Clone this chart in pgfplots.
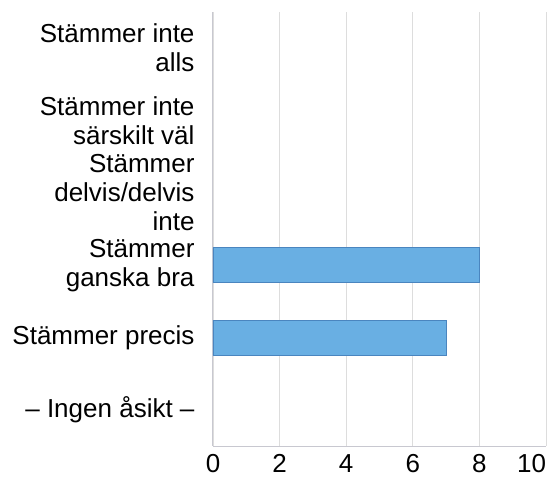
\documentclass[border=0pt]{standalone}
\usepackage{pgfplots}
\pgfplotsset{compat=1.18}
\usepackage{fontspec}
\setmainfont{Liberation Sans}
\definecolor{barfill}{HTML}{69AFE3}
\definecolor{barline}{HTML}{4A85BF}
\definecolor{gridc}{HTML}{DDDDDD}
\definecolor{axc}{HTML}{C8C8D0}
\begin{document}
\begin{tikzpicture}
\begin{axis}[
  at={(0,0)}, anchor=south west,
  scale only axis,
  width=333bp, height=434bp,
  xmin=0, xmax=10,
  ymin=-0.5, ymax=5.5,
  y dir=reverse,
  xbar,
  bar width=35bp,
  xtick={0,2,...,10},
  xticklabels={0,2,4,6,8,\makebox[0pt][r]{10}},
  ytick={0,1,2,3,4,5},
  yticklabels={{Stämmer inte\\alls},{Stämmer inte\\särskilt väl},{Stämmer\\delvis/delvis\\inte},{Stämmer\\ganska bra},{Stämmer precis},{– Ingen åsikt –}},
  yticklabel style={align=right, font=\fontsize{26bp}{29bp}\selectfont, xshift=-15bp},
  xticklabel style={font=\fontsize{26bp}{29bp}\selectfont, yshift=-7bp, inner sep=1bp},
  /pgf/number format/assume math mode=true,
  major tick length=0pt,
  xmajorgrids,
  grid style={gridc, line width=0.8pt},
  axis x line=bottom,
  axis y line=left,
  axis line style={-, axc, line width=1pt},
  clip=false,
]
\addplot[fill=barfill, draw=barline, line width=0.8pt] coordinates {
  (8,3) (7,4)
};
\end{axis}
\pgfresetboundingbox
\path (-213bp,-35bp) rectangle (338bp,446bp);
\end{tikzpicture}
\end{document}
